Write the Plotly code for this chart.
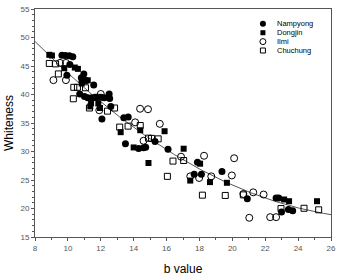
import numpy as np
import plotly.graph_objects as go

# ---- data ----
nampyong_b = [9.64, 9.85, 10.09, 10.30, 10.12, 9.94, 10.97, 10.82, 10.87, 11.12, 11.57, 10.72, 11.01,
              11.21, 11.46, 11.67, 12.01, 12.21, 12.51, 12.54, 12.61, 12.07, 13.40, 13.67, 13.50, 14.30,
              14.60, 14.73, 15.30, 16.09, 17.68, 18.12, 19.37, 17.88, 20.91, 22.66, 22.82, 22.99, 23.41, 23.67]
nampyong_w = [46.88, 46.84, 46.79, 46.62, 45.28, 43.36, 43.61, 42.94, 42.27, 42.44, 41.68, 40.09, 39.67,
              39.42, 39.42, 39.47, 39.51, 39.42, 40.09, 39.30, 37.91, 35.69, 35.90, 36.07, 31.38, 30.54,
              30.66, 30.76, 31.77, 30.38, 26.02, 26.02, 26.47, 28.12, 21.72, 21.83, 21.83, 19.37, 19.82, 19.61]

dongjin_b = [8.87, 9.03, 9.78, 10.42, 10.61, 11.21, 10.84, 11.41, 11.36, 11.95, 11.85, 13.21, 14.40,
             14.00, 14.90, 15.88, 17.04, 17.44, 18.64, 18.04, 19.67, 23.15, 23.45, 25.15]
dongjin_w = [46.96, 46.84, 44.61, 44.73, 44.50, 42.49, 41.93, 38.47, 37.91, 37.63, 38.42, 33.39, 33.73,
             30.71, 27.98, 33.56, 30.49, 24.90, 24.63, 27.86, 24.51, 21.58, 21.28, 21.28]

ilmi_b = [9.52, 9.88, 9.12, 9.88, 12.00, 11.91, 14.39, 14.87, 14.09, 14.60, 15.59, 16.88, 18.28,
          17.44, 17.98, 18.72, 20.11, 19.97, 20.67, 21.27, 21.90, 21.03, 22.30, 22.66]
ilmi_w = [45.54, 45.54, 42.52, 42.52, 40.09, 37.24, 37.50, 37.41, 35.12, 31.88, 34.85, 29.09, 29.25,
          25.64, 25.35, 25.64, 28.82, 25.80, 22.55, 22.84, 22.45, 18.37, 18.48, 18.48]

chuchung_b = [8.87, 9.25, 9.42, 10.36, 10.58, 11.07, 10.33, 11.31, 12.41, 11.75, 12.84, 13.15, 13.66,
              14.40, 14.90, 15.09, 15.49, 16.05, 16.39, 17.04, 18.18, 19.57, 20.67, 22.96, 24.36, 25.25]
chuchung_w = [45.45, 45.37, 43.61, 41.26, 41.26, 41.18, 39.25, 37.63, 37.08, 39.51, 37.63, 34.28, 34.45,
              34.56, 32.34, 32.30, 32.22, 25.64, 28.32, 28.42, 22.34, 22.29, 22.39, 19.99, 20.04, 19.77]

# quadratic regression curve coefficients (whiteness = c0 + c1*b + c2*b^2)
fit_coef = [77.07, -4.02, 0.0686]
fit_range = [8, 26]

legend_names = ["Nampyong", "Dongjin", "Ilmi", "Chuchung"]

x_ticks = [8, 10, 12, 14, 16, 18, 20, 22, 24, 26]
y_ticks = [15, 20, 25, 30, 35, 40, 45, 50, 55]

FONT = "Liberation Sans, Arial, sans-serif"

styles = {
    "Nampyong": dict(symbol="circle", size=7, color="black", line=dict(width=0)),
    "Dongjin": dict(symbol="square", size=6, color="black", line=dict(width=0)),
    "Ilmi": dict(symbol="circle-open", size=7, color="black", line=dict(width=1, color="black")),
    "Chuchung": dict(symbol="square-open", size=6, color="black", line=dict(width=1, color="black")),
}

fig = go.Figure()

# fit curve
xf = np.linspace(fit_range[0], fit_range[1], 200)
yf = fit_coef[0] + fit_coef[1] * xf + fit_coef[2] * xf ** 2
fig.add_trace(go.Scatter(x=xf, y=yf, mode="lines", line=dict(color="#555555", width=1),
                         showlegend=False, hoverinfo="skip"))

series = [("Chuchung", chuchung_b, chuchung_w), ("Ilmi", ilmi_b, ilmi_w),
          ("Dongjin", dongjin_b, dongjin_w), ("Nampyong", nampyong_b, nampyong_w)]
for name, bx, wy in series:
    fig.add_trace(go.Scatter(x=bx, y=wy, mode="markers", name=name,
                             marker=styles[name], showlegend=False))

# custom compact legend on an overlay axis (0..1 of the plot area)
leg_x = 0.77
leg_y0 = 0.935
leg_dy = 0.039
leg_x_vals = [leg_x] * len(legend_names)
leg_y_vals = [leg_y0 - i * leg_dy for i in range(len(legend_names))]
for i, name in enumerate(legend_names):
    st = dict(styles[name])
    st["size"] = st["size"] - 1
    fig.add_trace(go.Scatter(x=[leg_x_vals[i]], y=[leg_y_vals[i]], mode="markers",
                             marker=st, xaxis="x2", yaxis="y2", showlegend=False,
                             hoverinfo="skip"))
    fig.add_annotation(x=leg_x + 0.045, y=leg_y_vals[i], xref="paper", yref="paper",
                       text=name, showarrow=False, xanchor="left", yanchor="middle",
                       borderpad=0,
                       font=dict(family=FONT, size=7.5, color="black"))

axis_common = dict(
    showline=True, linecolor="#555555", linewidth=1, mirror=True,
    ticks="outside", ticklen=3, tickcolor="#555555", tickwidth=1,
    showgrid=False, zeroline=False,
    tickfont=dict(family=FONT, size=8, color="#555555"),
)

fig.update_layout(
    width=341, height=279,
    margin=dict(l=35, r=5, t=8, b=32),
    plot_bgcolor="white", paper_bgcolor="white",
    showlegend=False,
    xaxis=dict(range=[8, 26], tickvals=x_ticks,
               minor=dict(dtick=1, ticks="outside", ticklen=2, tickcolor="#555555"),
               title=dict(text="b value", font=dict(family=FONT, size=12, color="black"), standoff=13),
               **axis_common),
    yaxis=dict(range=[15, 55], tickvals=y_ticks,
               minor=dict(dtick=1, ticks="outside", ticklen=2, tickcolor="#555555"),
               title=dict(text="Whiteness", font=dict(family=FONT, size=12, color="black"), standoff=4),
               **axis_common),
    xaxis2=dict(range=[0, 1], overlaying="x", visible=False, fixedrange=True),
    yaxis2=dict(range=[0, 1], overlaying="y", visible=False, fixedrange=True),
)

fig.write_html("out.html")
